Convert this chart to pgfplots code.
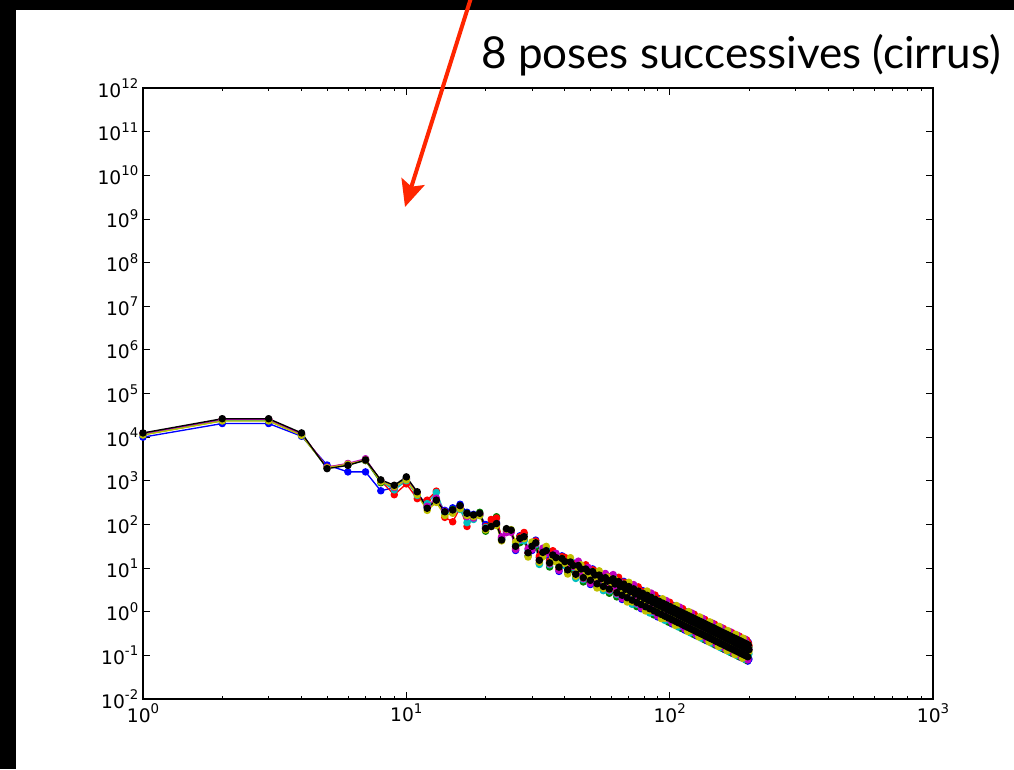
\documentclass[border=0pt]{standalone}
\usepackage{pgfplots}
\pgfplotsset{compat=1.18}
\usepackage{pgfplotstable}
\usepackage{fontspec}
\setmainfont{DejaVu Sans}
\newfontfamily\titlefont{Lato}
\usetikzlibrary{arrows.meta}

\definecolor{mplb}{rgb}{0,0,1}
\definecolor{mplg}{rgb}{0,0.5,0}
\definecolor{mplr}{rgb}{1,0,0}
\definecolor{mplc}{rgb}{0,0.75,0.75}
\definecolor{mplm}{rgb}{0.75,0,0.75}
\definecolor{mply}{rgb}{0.75,0.75,0}
\definecolor{arrowred}{RGB}{255,38,0}

\newcommand{\ex}[1]{10\raisebox{0.45em}{\fontsize{10}{10}\selectfont #1}}

% spectra of the successive poses: wavenumber k, then one column per pose
\pgfplotstableread{
k b g r c m y kk
1 1.00e4 1.15e4 1.20e4 1.14e4 1.21e4 1.12e4 1.25e4
2 2.05e4 2.40e4 2.55e4 2.40e4 2.55e4 2.35e4 2.65e4
3 2.05e4 2.40e4 2.55e4 2.40e4 2.55e4 2.35e4 2.65e4
4 1.05e4 1.13e4 1.18e4 1.12e4 1.18e4 1.10e4 1.25e4
5 2.30e3 2.00e3 2.05e3 2.00e3 2.05e3 2.00e3 1.90e3
6 1.60e3 2.35e3 2.45e3 2.40e3 2.50e3 2.40e3 2.25e3
7 1.60e3 2.90e3 3.00e3 3.10e3 3.20e3 3.00e3 3.00e3
8 5.90e2 9.00e2 1.00e3 9.80e2 1.00e3 9.50e2 1.05e3
9 7.00e2 7.50e2 4.80e2 6.20e2 7.00e2 7.30e2 7.90e2
10 1.10e3 1.15e3 8.50e2 1.00e3 1.10e3 1.05e3 1.23e3
11 5.20e2 5.00e2 3.90e2 4.60e2 5.20e2 4.80e2 5.60e2
12 2.50e2 2.60e2 3.60e2 3.00e2 2.60e2 2.10e2 2.35e2
13 3.50e2 3.80e2 5.80e2 5.40e2 4.00e2 3.20e2 3.60e2
14 2.10e2 1.90e2 1.45e2 1.80e2 2.00e2 1.60e2 1.95e2
15 2.40e2 2.20e2 1.15e2 1.90e2 2.00e2 1.80e2 2.15e2
16 2.90e2 2.60e2 2.40e2 2.20e2 2.50e2 2.30e2 2.70e2
17 1.90e2 1.80e2 9.00e1 1.10e2 1.50e2 1.60e2 1.80e2
18 1.70e2 1.60e2 1.50e2 1.30e2 1.40e2 1.50e2 1.65e2
19 1.70e2 1.90e2 1.70e2 1.60e2 1.70e2 1.60e2 1.80e2
20 1.00e2 7.00e1 9.00e1 8.50e1 8.00e1 7.50e1 8.10e1
21 9.50e1 1.00e2 1.30e2 9.00e1 9.00e1 9.00e1 9.00e1
22 1.10e2 1.50e2 1.40e2 1.00e2 1.00e2 9.50e1 1.05e2
23 4.80e1 4.50e1 5.00e1 4.60e1 5.20e1 4.20e1 4.40e1
24 7.80e1 7.50e1 7.00e1 6.80e1 6.50e1 7.80e1 8.00e1
25 7.20e1 7.00e1 6.80e1 7.50e1 6.60e1 7.60e1 7.40e1
26 25.3 31.6 28.4 34.8 26.9 39.5 31.6
27 55.1 38.3 52.7 43.1 45.5 47.9 47.9
28 44.6 60.4 65.6 42.0 52.5 47.3 52.5
29 22.4 19.0 22.4 25.8 28.0 17.9 22.4
30 25.3 31.6 28.4 34.8 26.9 39.5 31.6
31 43.7 30.4 41.8 34.2 36.1 38.0 38.0
32 12.8 17.4 18.9 12.1 15.1 13.6 15.1
33 22.9 19.5 22.9 26.3 28.6 18.3 22.9
34 20.1 25.1 22.6 27.6 21.3 31.4 25.1
35 15.2 10.6 14.5 11.9 12.5 13.2 13.2
36 17.0 23.0 25.0 16.0 20.0 18.0 20.0
37 17.4 14.8 17.4 20.0 21.8 13.9 17.4
38 8.40 10.5 9.45 11.6 8.93 13.1 10.5
39 19.1 13.3 18.3 14.9 15.8 16.6 16.6
40 12.0 16.2 17.6 11.3 14.1 12.7 14.1
41 9.12 7.75 9.12 10.5 11.4 7.30 9.12
42 11.0 13.8 12.4 15.2 11.7 17.3 13.8
43 13.2 9.20 12.7 10.4 10.9 11.5 11.5
44 6.15 8.33 9.05 5.79 7.24 6.52 7.24
45 11.5 9.78 11.5 13.2 14.4 9.20 11.5
46 7.64 9.55 8.60 10.5 8.12 11.9 9.55
47 6.93 4.82 6.63 5.43 5.73 6.03 6.03
48 8.12 11.0 11.9 7.64 9.55 8.60 9.55
49 8.32 7.07 8.32 9.57 10.4 6.66 8.32
50 4.20 5.25 4.73 5.78 4.46 6.56 5.25
51 9.57 6.66 9.15 7.49 7.90 8.32 8.32
52 5.88 7.96 8.65 5.54 6.92 6.23 6.92
53 4.37 3.71 4.37 5.03 5.46 3.50 4.37
54 5.54 6.92 6.23 7.61 5.88 8.65 6.92
55 6.61 4.60 6.33 5.18 5.46 5.75 5.75
56 3.23 4.37 4.75 3.04 3.80 3.42 3.80
57 6.03 5.13 6.03 6.93 7.54 4.82 6.03
58 4.01 5.01 4.51 5.51 4.26 6.26 5.01
59 3.81 2.65 3.64 2.98 3.14 3.31 3.31
60 4.46 6.04 6.56 4.20 5.25 4.73 5.25
61 5.68 4.83 5.68 6.53 7.10 4.54 5.68
62 3.45 4.31 3.88 4.74 3.66 5.39 4.31
63 3.15 2.19 3.01 2.47 2.60 2.74 2.74
64 4.18 5.66 6.15 3.94 4.92 4.43 4.92
65 3.74 3.18 3.74 4.30 4.68 2.99 3.74
66 1.91 2.39 2.15 2.63 2.03 2.99 2.39
67 4.95 3.44 4.73 3.87 4.09 4.30 4.30
68 2.79 3.77 4.10 2.62 3.28 2.95 3.28
69 2.09 1.78 2.09 2.40 2.61 1.67 2.09
70 3.02 3.78 3.40 4.16 3.21 4.73 3.78
71 3.32 2.31 3.18 2.60 2.75 2.89 2.89
72 1.57 2.13 2.31 1.48 1.85 1.67 1.85
73 3.34 2.84 3.34 3.84 4.18 2.67 3.34
74 2.04 2.55 2.30 2.81 2.17 3.19 2.55
75 1.89 1.31 1.80 1.48 1.56 1.64 1.64
76 2.52 3.42 3.71 2.38 2.97 2.67 2.97
77 2.27 1.93 2.27 2.61 2.84 1.82 2.27
78 1.17 1.46 1.31 1.61 1.24 1.83 1.46
79 3.04 2.11 2.90 2.38 2.51 2.64 2.64
80 1.73 2.33 2.54 1.62 2.03 1.83 2.03
81 1.30 1.11 1.30 1.50 1.63 1.04 1.30
82 1.90 2.38 2.14 2.62 2.02 2.98 2.38
83 2.09 1.46 2.00 1.64 1.73 1.82 1.82
84 0.995 1.35 1.46 0.936 1.17 1.05 1.17
85 2.14 1.82 2.14 2.46 2.68 1.71 2.14
86 1.31 1.64 1.48 1.80 1.39 2.05 1.64
87 1.22 0.848 1.17 0.954 1.01 1.06 1.06
88 1.64 2.22 2.41 1.54 1.93 1.74 1.93
89 1.48 1.26 1.48 1.70 1.85 1.18 1.48
90 0.762 0.952 0.857 1.05 0.809 1.19 0.952
91 2.00 1.39 1.91 1.57 1.65 1.74 1.74
92 1.14 1.54 1.68 1.07 1.34 1.21 1.34
93 0.868 0.738 0.868 0.998 1.09 0.694 0.868
94 1.26 1.58 1.42 1.74 1.34 1.98 1.58
95 1.40 0.976 1.34 1.10 1.16 1.22 1.22
96 0.672 0.910 0.989 0.633 0.791 0.712 0.791
97 1.44 1.22 1.44 1.66 1.80 1.15 1.44
98 0.888 1.11 0.999 1.22 0.944 1.39 1.11
99 0.829 0.577 0.793 0.649 0.685 0.721 0.721
100 1.12 1.52 1.65 1.06 1.32 1.19 1.32
101 1.02 0.867 1.02 1.17 1.28 0.816 1.02
102 0.528 0.660 0.594 0.726 0.561 0.825 0.660
103 1.39 0.968 1.33 1.09 1.15 1.21 1.21
104 0.796 1.08 1.17 0.749 0.936 0.842 0.936
105 0.606 0.515 0.606 0.697 0.758 0.485 0.606
106 0.888 1.11 0.999 1.22 0.944 1.39 1.11
107 0.989 0.688 0.946 0.774 0.817 0.860 0.860
108 0.474 0.642 0.698 0.446 0.558 0.502 0.558
109 1.02 0.867 1.02 1.17 1.28 0.816 1.02
110 0.634 0.793 0.714 0.872 0.674 0.991 0.793
111 0.592 0.412 0.567 0.464 0.489 0.515 0.515
112 0.803 1.09 1.18 0.756 0.945 0.851 0.945
113 0.732 0.622 0.732 0.842 0.915 0.586 0.732
114 0.380 0.475 0.428 0.523 0.404 0.594 0.475
115 1.01 0.699 0.961 0.787 0.830 0.874 0.874
116 0.575 0.779 0.846 0.542 0.677 0.609 0.677
117 0.440 0.374 0.440 0.506 0.550 0.352 0.440
118 0.648 0.810 0.729 0.891 0.689 1.01 0.810
119 0.723 0.503 0.692 0.566 0.598 0.629 0.629
120 0.348 0.470 0.511 0.327 0.409 0.368 0.409
121 0.752 0.639 0.752 0.865 0.940 0.602 0.752
122 0.467 0.584 0.526 0.642 0.496 0.730 0.584
123 0.437 0.304 0.418 0.342 0.361 0.380 0.380
124 0.595 0.805 0.875 0.560 0.700 0.630 0.700
125 0.544 0.462 0.544 0.626 0.680 0.435 0.544
126 0.283 0.354 0.319 0.389 0.301 0.443 0.354
127 0.750 0.522 0.717 0.587 0.619 0.652 0.652
128 0.431 0.583 0.634 0.406 0.507 0.456 0.507
129 0.330 0.281 0.330 0.380 0.413 0.264 0.330
130 0.487 0.609 0.548 0.670 0.518 0.761 0.609
131 0.545 0.379 0.521 0.427 0.450 0.474 0.474
132 0.263 0.355 0.386 0.247 0.309 0.278 0.309
133 0.569 0.484 0.569 0.654 0.711 0.455 0.569
134 0.354 0.443 0.399 0.487 0.377 0.554 0.443
135 0.332 0.231 0.318 0.260 0.275 0.289 0.289
136 0.453 0.613 0.666 0.426 0.533 0.480 0.533
137 0.415 0.353 0.415 0.477 0.519 0.332 0.415
138 0.217 0.271 0.244 0.298 0.230 0.339 0.271
139 0.575 0.400 0.550 0.450 0.475 0.500 0.500
140 0.332 0.449 0.488 0.312 0.390 0.351 0.390
141 0.254 0.216 0.254 0.292 0.318 0.203 0.254
142 0.375 0.469 0.422 0.516 0.399 0.586 0.469
143 0.420 0.292 0.402 0.329 0.347 0.365 0.365
144 0.203 0.275 0.299 0.191 0.239 0.215 0.239
145 0.441 0.375 0.441 0.507 0.551 0.353 0.441
146 0.274 0.343 0.309 0.377 0.292 0.429 0.343
147 0.259 0.180 0.248 0.203 0.214 0.225 0.225
148 0.354 0.478 0.520 0.333 0.416 0.374 0.416
149 0.323 0.275 0.323 0.371 0.404 0.258 0.323
150 0.169 0.211 0.190 0.232 0.179 0.264 0.211
151 0.450 0.313 0.430 0.352 0.371 0.391 0.391
152 0.260 0.352 0.383 0.245 0.306 0.275 0.306
153 0.200 0.170 0.200 0.230 0.250 0.160 0.200
154 0.296 0.370 0.333 0.407 0.315 0.463 0.370
155 0.332 0.231 0.318 0.260 0.275 0.289 0.289
156 0.160 0.216 0.235 0.150 0.188 0.169 0.188
157 0.348 0.296 0.348 0.400 0.435 0.278 0.348
158 0.218 0.272 0.245 0.299 0.231 0.340 0.272
159 0.206 0.143 0.197 0.161 0.170 0.179 0.179
160 0.281 0.380 0.413 0.264 0.330 0.297 0.330
161 0.257 0.218 0.257 0.296 0.321 0.206 0.257
162 0.135 0.169 0.152 0.186 0.144 0.211 0.169
163 0.360 0.250 0.344 0.282 0.297 0.313 0.313
164 0.207 0.281 0.305 0.195 0.244 0.220 0.244
165 0.160 0.136 0.160 0.184 0.200 0.128 0.160
166 0.237 0.296 0.266 0.326 0.252 0.370 0.296
167 0.266 0.185 0.254 0.208 0.219 0.231 0.231
168 0.128 0.174 0.189 0.121 0.151 0.136 0.151
169 0.281 0.239 0.281 0.323 0.351 0.225 0.281
170 0.175 0.219 0.197 0.241 0.186 0.274 0.219
171 0.166 0.115 0.158 0.130 0.137 0.144 0.144
172 0.227 0.307 0.334 0.214 0.267 0.240 0.267
173 0.209 0.178 0.209 0.240 0.261 0.167 0.209
174 0.110 0.137 0.123 0.151 0.116 0.171 0.137
175 0.291 0.202 0.278 0.228 0.240 0.253 0.253
176 0.168 0.228 0.248 0.158 0.198 0.178 0.198
177 0.130 0.111 0.130 0.150 0.163 0.104 0.130
178 0.194 0.242 0.218 0.266 0.206 0.303 0.242
179 0.216 0.150 0.207 0.169 0.179 0.188 0.188
180 0.105 0.143 0.155 0.099 0.124 0.112 0.124
181 0.230 0.196 0.230 0.265 0.288 0.184 0.230
182 0.144 0.180 0.162 0.198 0.153 0.225 0.180
183 0.136 0.094 0.130 0.106 0.112 0.118 0.118
184 0.186 0.252 0.274 0.175 0.219 0.197 0.219
185 0.171 0.145 0.171 0.197 0.214 0.137 0.171
186 0.090 0.112 0.101 0.123 0.095 0.140 0.112
187 0.240 0.167 0.230 0.188 0.199 0.209 0.209
188 0.139 0.187 0.204 0.130 0.163 0.147 0.163
189 0.107 0.091 0.107 0.123 0.134 0.086 0.107
190 0.158 0.198 0.178 0.218 0.168 0.248 0.198
191 0.178 0.124 0.171 0.140 0.147 0.155 0.155
192 0.087 0.117 0.128 0.082 0.102 0.092 0.102
193 0.190 0.162 0.190 0.219 0.238 0.152 0.190
194 0.119 0.149 0.134 0.164 0.127 0.186 0.149
195 0.113 0.078 0.108 0.088 0.093 0.098 0.098
196 0.154 0.208 0.226 0.145 0.181 0.163 0.181
197 0.142 0.121 0.142 0.163 0.178 0.114 0.142
198 0.074 0.093 0.084 0.102 0.079 0.116 0.093
199 0.199 0.138 0.190 0.156 0.164 0.173 0.173
200 0.082 0.155 0.169 0.108 0.135 0.122 0.135
}\spectra

\begin{document}
\begin{tikzpicture}
  % page: black frame with a white sheet
  \useasboundingbox (0pt,0pt) rectangle (760.5pt,-576.75pt);
  \fill[black] (0pt,0pt) rectangle (760.5pt,-576.75pt);
  \fill[white] (12pt,-7.5pt) rectangle (760.5pt,-576.75pt);

  \begin{axis}[
    at={(107.25pt,-524.25pt)}, anchor=south west,
    width=592.5pt, height=458.25pt, scale only axis,
    xmode=log, ymode=log,
    xmin=1, xmax=1000, ymin=1e-2, ymax=1e12,
    xtick={1,10,100,1000},
    xticklabels={\ex{0},\ex{1},\ex{2},\ex{3}},
    ytick={1e-2,1e-1,1,1e1,1e2,1e3,1e4,1e5,1e6,1e7,1e8,1e9,1e10,1e11,1e12},
    yticklabels={\ex{-2},\ex{-1},\ex{0},\ex{1},\ex{2},\ex{3},\ex{4},\ex{5},\ex{6},\ex{7},\ex{8},\ex{9},\ex{10},\ex{11},\ex{12}},
    xminorticks=true, yminorticks=false,
    tick align=inside,
    major tick length=5pt, minor tick length=2.5pt,
    tick style={black, line width=0.6pt},
    axis line style={black, line width=0.9pt},
    ticklabel style={font=\fontsize{14}{16}\selectfont},
    every axis plot/.append style={line width=1pt, line join=round, mark=*, mark size=2.3pt},
  ]
    \addplot[mplb, mark options={fill=mplb, draw=mplb}] table[x=k, y=b] {\spectra};
    \addplot[mplg, mark options={fill=mplg, draw=mplg}] table[x=k, y=g] {\spectra};
    \addplot[mplr, mark options={fill=mplr, draw=mplr}] table[x=k, y=r] {\spectra};
    \addplot[mplc, mark options={fill=mplc, draw=mplc}] table[x=k, y=c] {\spectra};
    \addplot[mplm, mark options={fill=mplm, draw=mplm}] table[x=k, y=m] {\spectra};
    \addplot[mply, mark options={fill=mply, draw=mply}] table[x=k, y=y] {\spectra};
    \addplot[black, mark options={fill=black, draw=black}] table[x=k, y=kk] {\spectra};
  \end{axis}

  % slide annotation
  \node[anchor=base west, inner sep=0pt, font=\titlefont\fontsize{33}{38}\selectfont]
    at (360.75pt,-51pt) {8 poses successives (cirrus)};
  \draw[arrowred, line width=3pt,
        -{Stealth[length=20pt, width=18pt, inset=4pt]}]
    (354pt,4pt) -- (303.75pt,-155.25pt);
\end{tikzpicture}
\end{document}
